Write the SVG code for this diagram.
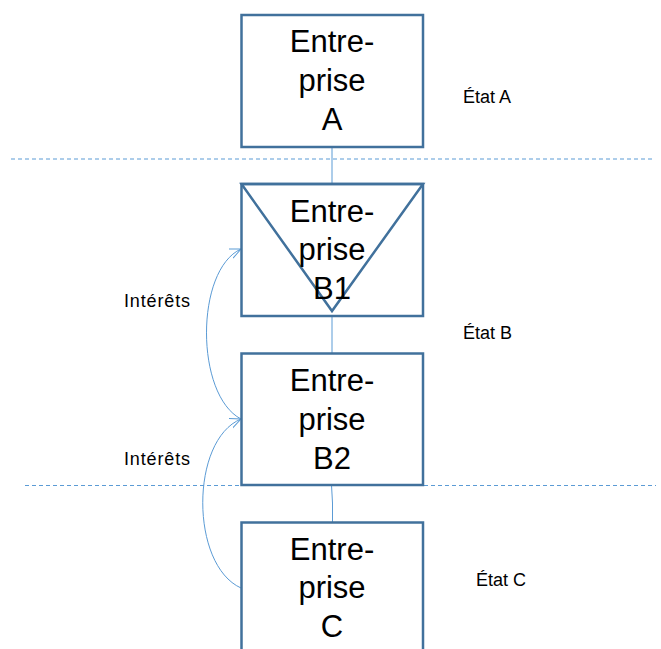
<svg xmlns="http://www.w3.org/2000/svg" width="661" height="649" viewBox="0 0 661 649">
  <style>
    .box { fill: #ffffff; stroke: #41719C; stroke-width: 2.5; }
    .tri { fill: none; stroke: #41719C; stroke-width: 2.5; stroke-linejoin: miter; }
    .big { font-family: "Liberation Sans", Arial, sans-serif; font-size: 31px; fill: #000000; text-anchor: middle; }
    .lbl { font-family: "Liberation Sans", Arial, sans-serif; font-size: 18px; fill: #000000; }
    .sep { stroke: #5B9BD5; stroke-width: 1; stroke-dasharray: 4 3; fill: none; }
    .link { stroke: #5B9BD5; stroke-width: 1; fill: none; }
  </style>
  <defs>
    <marker id="open" viewBox="0 0 12 12" refX="11" refY="6" markerWidth="12" markerHeight="12" markerUnits="userSpaceOnUse" orient="auto">
      <path d="M0,1 L11,6 L0,11" fill="none" stroke="#5B9BD5" stroke-width="1"/>
    </marker>
  </defs>
  <rect width="661" height="649" fill="#ffffff"/>

  <!-- state separators -->
  <g id="separators">
    <line class="sep" x1="11" y1="159" x2="654" y2="159"/>
    <line class="sep" x1="25" y1="485.5" x2="656" y2="485.5"/>
  </g>

  <!-- connectors -->
  <g id="connectors">
    <line class="link" x1="332" y1="147" x2="332" y2="184"/>
    <line class="link" x1="332" y1="316" x2="332" y2="353"/>
    <polyline class="link" points="331.5,485 332.5,503 332.5,522"/>
    <path class="link" d="M241,419 C195,395 195,270 241,249" marker-end="url(#open)"/>
    <path class="link" d="M241,588 C190,565 190,440 241,419" marker-end="url(#open)"/>
  </g>

  <g id="node-a">
    <rect class="box" x="241.5" y="15" width="181.5" height="132"/>
    <text class="big" x="332" y="52">Entre-</text>
    <text class="big" x="332" y="91">prise</text>
    <text class="big" x="332" y="130">A</text>
  </g>

  <g id="node-b1">
    <rect class="box" x="241.5" y="184" width="181.5" height="132"/>
    <polygon class="tri" points="241.5,184 423,184 332,311"/>
    <text class="big" x="332" y="222">Entre-</text>
    <text class="big" x="332" y="260">prise</text>
    <text class="big" x="332" y="299">B1</text>
  </g>

  <g id="node-b2">
    <rect class="box" x="241.5" y="353.5" width="181.5" height="131.5"/>
    <text class="big" x="332" y="391">Entre-</text>
    <text class="big" x="332" y="430">prise</text>
    <text class="big" x="332" y="469">B2</text>
  </g>

  <g id="node-c">
    <rect class="box" x="241.5" y="522.5" width="181.5" height="140"/>
    <text class="big" x="332" y="560">Entre-</text>
    <text class="big" x="332" y="598">prise</text>
    <text class="big" x="332" y="637">C</text>
  </g>

  <g id="labels">
    <text class="lbl" x="124" y="307" textLength="66" lengthAdjust="spacing">Intérêts</text>
    <text class="lbl" x="124" y="465" textLength="66" lengthAdjust="spacing">Intérêts</text>
    <text class="lbl" x="463" y="103">État A</text>
    <text class="lbl" x="463" y="339">État B</text>
    <text class="lbl" x="476" y="586">État C</text>
  </g>
</svg>
